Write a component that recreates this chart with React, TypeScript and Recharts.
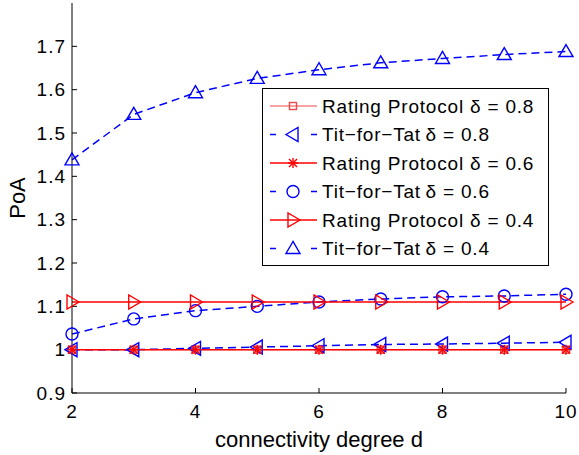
import React from "react";
import { Legend, Line, LineChart, XAxis, YAxis } from "recharts";

const DEGREES = [2, 3, 4, 5, 6, 7, 8, 9, 10];
const RATING_08 = [1, 1, 1, 1, 1, 1, 1, 1, 1];
const TFT_08 = [1.0, 1.0, 1.003, 1.006, 1.009, 1.012, 1.013, 1.015, 1.017];
const RATING_06 = [1, 1, 1, 1, 1, 1, 1, 1, 1];
const TFT_06 = [1.036, 1.071, 1.09, 1.1, 1.11, 1.117, 1.122, 1.124, 1.128];
const RATING_04 = [1.11, 1.11, 1.11, 1.11, 1.11, 1.11, 1.11, 1.11, 1.11];
const TFT_04 = [1.438, 1.543, 1.593, 1.626, 1.646, 1.662, 1.672, 1.681, 1.688];

const X_TICKS = [2, 4, 6, 8, 10];
const Y_TICKS = [0.9, 1.0, 1.1, 1.2, 1.3, 1.4, 1.5, 1.6, 1.7];

const FONT = '"Liberation Sans", Arial, Helvetica, sans-serif';
const RED = "#ff0000";
const BLUE = "#0000ff";

type Shape = "square" | "triLeft" | "star" | "circle" | "triRight" | "triUp";

const SERIES: {
  key: string;
  label: string;
  values: number[];
  color: string;
  dashed: boolean;
  shape: Shape;
  width: number;
}[] = [
  { key: "r08", label: "Rating Protocol δ = 0.8", values: RATING_08, color: "#f04848", dashed: false, shape: "square", width: 1 },
  { key: "t08", label: "Tit−for−Tat\u2009δ = 0.8", values: TFT_08, color: BLUE, dashed: true, shape: "triLeft", width: 1.5 },
  { key: "r06", label: "Rating Protocol δ = 0.6", values: RATING_06, color: RED, dashed: false, shape: "star", width: 1.5 },
  { key: "t06", label: "Tit−for−Tat\u2009δ = 0.6", values: TFT_06, color: BLUE, dashed: true, shape: "circle", width: 1.5 },
  { key: "r04", label: "Rating Protocol δ = 0.4", values: RATING_04, color: RED, dashed: false, shape: "triRight", width: 1.5 },
  { key: "t04", label: "Tit−for−Tat\u2009δ = 0.4", values: TFT_04, color: BLUE, dashed: true, shape: "triUp", width: 1.5 },
];

const data = DEGREES.map((d, i) => {
  const row: Record<string, number> = { d };
  SERIES.forEach((s) => {
    row[s.key] = s.values[i];
  });
  return row;
});

function Marker({ cx, cy, shape, color }: { cx: number; cy: number; shape: Shape; color: string }) {
  const common = { fill: "none", stroke: color, strokeWidth: 1.4 };
  switch (shape) {
    case "square":
      return <rect x={cx - 3.5} y={cy - 3.5} width={7} height={7} {...common} />;
    case "circle":
      return <circle cx={cx} cy={cy} r={6} {...common} />;
    case "star":
      return (
        <g {...common}>
          <line x1={cx - 5} y1={cy} x2={cx + 5} y2={cy} />
          <line x1={cx} y1={cy - 5} x2={cx} y2={cy + 5} />
          <line x1={cx - 4} y1={cy - 4} x2={cx + 4} y2={cy + 4} />
          <line x1={cx - 4} y1={cy + 4} x2={cx + 4} y2={cy - 4} />
        </g>
      );
    case "triUp":
      return <polygon points={`${cx},${cy - 7} ${cx - 7},${cy + 5} ${cx + 7},${cy + 5}`} {...common} />;
    case "triLeft":
      return <polygon points={`${cx - 7},${cy} ${cx + 5},${cy - 7} ${cx + 5},${cy + 7}`} {...common} />;
    case "triRight":
      return <polygon points={`${cx + 7},${cy} ${cx - 5},${cy - 7} ${cx - 5},${cy + 7}`} {...common} />;
  }
}

function LegendBox() {
  const rowH = 28.5;
  return (
    <svg width={287} height={178} style={{ display: "block" }}>
      <rect x={0.5} y={0.5} width={286} height={177} fill="#fff" stroke="#000" strokeWidth={1} />
      {SERIES.map((s, i) => {
        const y = 18 + i * rowH;
        return (
          <g key={s.key}>
            <line
              x1={8}
              x2={55}
              y1={y}
              y2={y}
              stroke={s.color}
              strokeWidth={s.width}
              strokeDasharray={s.dashed ? "6 35" : undefined}
            />
            <Marker cx={31} cy={y} shape={s.shape} color={s.color} />
            <text
              x={60}
              y={y}
              dominantBaseline="central"
              fontFamily={FONT}
              fontSize={19}
              letterSpacing={0.8}
              fill="#000"
            >
              {s.label}
            </text>
          </g>
        );
      })}
    </svg>
  );
}

const axisTick = { fill: "#000", fontSize: 19, fontFamily: FONT, letterSpacing: 1 };
const fmtY = (v: number) => String(Number(v.toFixed(1)));

export default function App() {
  return (
    <div style={{ position: "absolute", left: 0, top: 0, background: "#fff" }}>
      <LineChart width={579} height={455} data={data} margin={{ top: 3, right: 13, bottom: 0, left: 0 }}>
        <XAxis
          dataKey="d"
          type="number"
          domain={[2, 10]}
          ticks={X_TICKS}
          height={62}
          tick={axisTick}
          tickSize={-5}
          tickMargin={17}
          stroke="#000"
          label={{
            value: "connectivity degree d",
            position: "insideBottom",
            offset: 8,
            fill: "#000",
            fontSize: 22,
            fontFamily: FONT,
          }}
        />
        <XAxis
          xAxisId="top"
          orientation="top"
          dataKey="d"
          type="number"
          domain={[2, 10]}
          ticks={X_TICKS}
          height={0}
          tickSize={-5}
          tickFormatter={() => ""}
          stroke="#000"
        />
        <YAxis
          type="number"
          domain={[0.9, 1.8]}
          ticks={Y_TICKS}
          width={72}
          tick={axisTick}
          tickSize={-5}
          tickMargin={11}
          tickFormatter={fmtY}
          stroke="#000"
          label={{
            content: (props: any) => {
              const vb = props.viewBox || { x: 0, y: 3, width: 72, height: 390 };
              const cx = vb.x + 17;
              const cy = vb.y + vb.height / 2;
              return (
                <text
                  x={cx}
                  y={cy}
                  transform={`rotate(-90, ${cx}, ${cy})`}
                  textAnchor="middle"
                  dominantBaseline="central"
                  fontFamily={FONT}
                  fontSize={22}
                  fill="#000"
                >
                  PoA
                </text>
              );
            },
          }}
        />
        <YAxis
          yAxisId="right"
          orientation="right"
          type="number"
          domain={[0.9, 1.8]}
          ticks={Y_TICKS}
          width={0}
          tickSize={-5}
          tickFormatter={() => ""}
          stroke="#000"
        />
        <Legend
          layout="vertical"
          align="center"
          verticalAlign="middle"
          wrapperStyle={{ left: 262, top: 88, width: 287, height: 178 }}
          content={() => <LegendBox />}
        />
        {SERIES.map((s) => (
          <Line
            key={s.key}
            dataKey={s.key}
            type="linear"
            stroke={s.color}
            strokeWidth={s.width}
            strokeDasharray={s.dashed ? "8 5" : undefined}
            isAnimationActive={false}
            activeDot={false}
            dot={(p: any) => (
              <Marker key={`${s.key}-${p.index}`} cx={p.cx} cy={p.cy} shape={s.shape} color={s.color} />
            )}
          />
        ))}
      </LineChart>
    </div>
  );
}
